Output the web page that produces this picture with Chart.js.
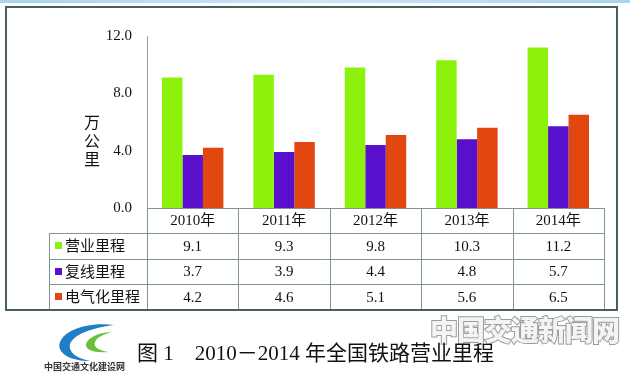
<!DOCTYPE html>
<html>
<head>
<meta charset="utf-8">
<script src="https://cdn.jsdelivr.net/npm/chart.js@4/dist/chart.umd.min.js"></script>
<style>
  html, body { margin: 0; padding: 0; background: #ffffff; }
  #wrap { position: relative; width: 630px; height: 374px; overflow: hidden; background: #ffffff; }
  #topstrip { position: absolute; left: 0; top: 0; width: 630px; height: 3px; background: linear-gradient(90deg, #a9d3ee, #c9e6f6 50%, #a9d3ee); }
  canvas { position: absolute; left: 0; top: 0; }
  #caption { position: absolute; left: 137px; top: 340px; font-family: "Liberation Serif", "Noto Sans CJK SC", serif; font-size: 21px; line-height: 26px; color: #111; white-space: nowrap; }
  #watermark { position: absolute; left: 430px; top: 312px; font-family: "Noto Sans CJK SC", sans-serif; font-weight: 900; font-size: 28px; line-height: 34px; color: #f4f4f4; -webkit-text-stroke: 2px #9c9c9c; paint-order: stroke fill; letter-spacing: -1px; white-space: nowrap; }
  #logotext { position: absolute; left: 44px; top: 361px; font-family: "Noto Sans CJK SC", serif; font-size: 9px; line-height: 11px; color: #333; white-space: nowrap; font-weight: bold; }
  #logo { position: absolute; left: 56px; top: 322px; }
</style>
</head>
<body>
<div id="wrap">
  <div id="topstrip"></div>
  <canvas id="c" width="630" height="374"></canvas>
  <svg id="logo" width="62" height="42" viewBox="0 0 62 42">
    <path d="M58 3 C36 0 10 6 4 20 C0 31 14 39 34 39 C20 36 12 30 14 22 C18 12 36 6 58 3 Z" fill="#1f7fc4"/>
    <path d="M56 10 C44 10 32 15 30 22 C29 28 38 31 52 30 C42 28 37 25 39 20 C41 15 48 12 56 10 Z" fill="#6cbf3a"/>
  </svg>
  <div id="logotext">中国交通文化建设网</div>
  <div id="watermark">中国交通新闻网</div>
  <div id="caption">图 1　2010－2014 年全国铁路营业里程</div>
</div>
<script>
const categories = ["2010年", "2011年", "2012年", "2013年", "2014年"];
const seriesNames = ["营业里程", "复线里程", "电气化里程"];
const operating = [9.1, 9.3, 9.8, 10.3, 11.2];
const doubleTrack = [3.7, 3.9, 4.4, 4.8, 5.7];
const electrified = [4.2, 4.6, 5.1, 5.6, 6.5];
const yTicks = [0, 4, 8, 12];
const yTitle = ["万", "公", "里"];
const colors = ["#8cf20c", "#5810cc", "#e2470f"];

const LINE = "#7e9698";
const serif = '"Liberation Serif", "Noto Sans CJK SC", serif';
const sans = '"Noto Sans CJK SC", "Noto Sans", sans-serif';

const tablePlugin = {
  id: "dataTable",
  afterDraw(chart) {
    const ctx = chart.ctx;
    const area = chart.chartArea;
    const xs = chart.scales.x;
    const n = categories.length;
    const colW = (area.right - area.left) / n;
    const rowTops = [area.bottom, area.bottom + 25, area.bottom + 50.5, area.bottom + 76, area.bottom + 101.5];
    const tableLeft = 49;
    ctx.save();
    ctx.strokeStyle = LINE;
    ctx.lineWidth = 1;
    ctx.beginPath();
    ctx.moveTo(area.left, Math.round(rowTops[0]) + 0.5);
    ctx.lineTo(area.right, Math.round(rowTops[0]) + 0.5);
    for (let r = 1; r < 4; r++) {
      ctx.moveTo(tableLeft, Math.round(rowTops[r]) + 0.5);
      ctx.lineTo(area.right, Math.round(rowTops[r]) + 0.5);
    }
    ctx.moveTo(tableLeft + 0.5, rowTops[1]);
    ctx.lineTo(tableLeft + 0.5, rowTops[4]);
    for (let i = 0; i <= n; i++) {
      const x = Math.round(area.left + i * colW) + 0.5;
      ctx.moveTo(x, rowTops[0]);
      ctx.lineTo(x, rowTops[4]);
    }
    ctx.stroke();

    ctx.fillStyle = "#111";
    ctx.textAlign = "center";
    ctx.textBaseline = "middle";
    ctx.font = "15px " + serif;
    categories.forEach((c, i) => {
      ctx.fillText(c, xs.getPixelForValue(i), (rowTops[0] + rowTops[1]) / 2 + 1);
    });
    chart.data.datasets.forEach((ds, r) => {
      const yc = (rowTops[r + 1] + rowTops[r + 2]) / 2 + 1;
      ctx.font = "15px " + serif;
      ctx.textAlign = "center";
      ds.data.forEach((v, i) => {
        ctx.fillText(v.toFixed(1), xs.getPixelForValue(i), yc);
      });
      ctx.fillStyle = ds.backgroundColor;
      ctx.fillRect(55, Math.round(yc - 4.5), 7, 7);
      ctx.fillStyle = "#111";
      ctx.textAlign = "left";
      ctx.font = "15px " + sans;
      ctx.fillText(ds.label, 65, yc - 1);
    });

    ctx.font = "16px " + sans;
    ctx.textAlign = "center";
    const yMid = [122, 141, 159];
    yTitle.forEach((ch, k) => ctx.fillText(ch, 92, yMid[k]));

    ctx.strokeStyle = "#45605f";
    ctx.lineWidth = 2;
    ctx.strokeRect(6, 7, 611, 303);
    ctx.restore();
  }
};

new Chart(document.getElementById("c"), {
  type: "bar",
  data: {
    labels: categories,
    datasets: [
      { label: seriesNames[0], data: operating, backgroundColor: colors[0] },
      { label: seriesNames[1], data: doubleTrack, backgroundColor: colors[1] },
      { label: seriesNames[2], data: electrified, backgroundColor: colors[2] }
    ]
  },
  options: {
    responsive: false,
    animation: false,
    devicePixelRatio: 1,
    layout: { padding: { left: 0, right: 26, top: 36, bottom: 166 } },
    datasets: { bar: { categoryPercentage: 0.672, barPercentage: 1.0 } },
    plugins: { legend: { display: false }, tooltip: { enabled: false } },
    scales: {
      x: { display: false },
      y: {
        min: 0, max: 12,
        afterFit(scale) { scale.width = 147; },
        afterBuildTicks(scale) { scale.ticks = yTicks.map(v => ({ value: v })); },
        grid: { display: false, drawTicks: false },
        border: { display: true, color: "#8fa3a6", width: 1 },
        ticks: {
          padding: 15,
          color: "#111",
          font: { family: "Liberation Serif", size: 15 },
          callback: v => Number(v).toFixed(1)
        }
      }
    }
  },
  plugins: [tablePlugin]
});
</script>
</body>
</html>
